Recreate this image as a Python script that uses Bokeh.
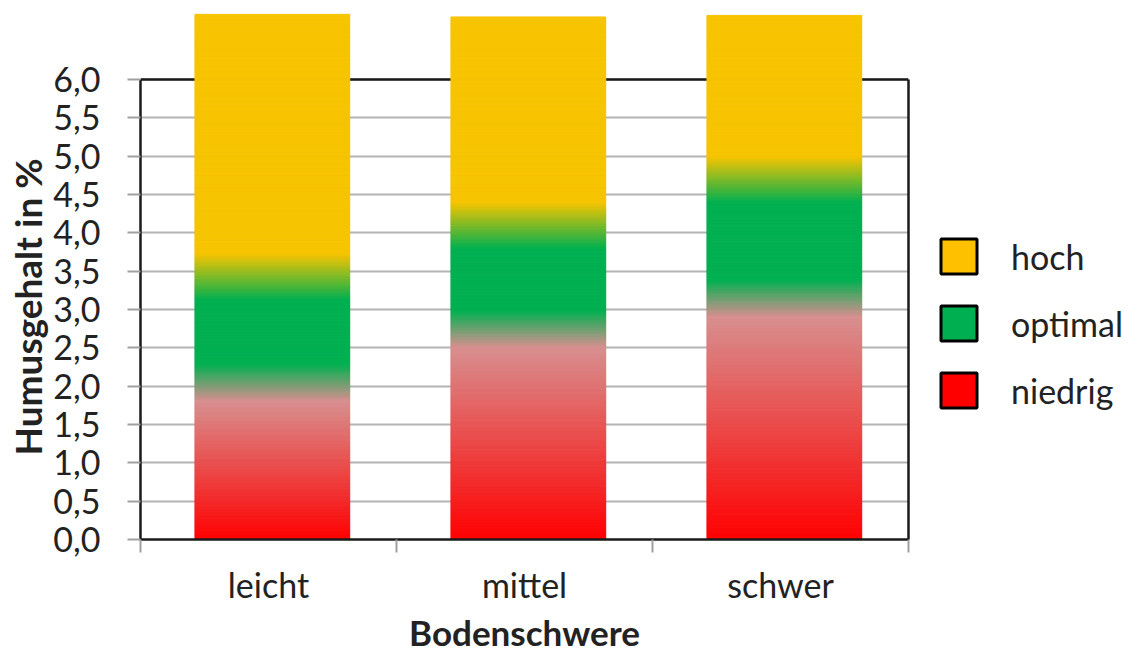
import math
from bokeh.plotting import figure
from bokeh.layouts import row
from bokeh.models import (Range1d, FixedTicker, LinearAxis, Span, Title,
                          Legend, LegendItem, ColumnDataSource)
from bokeh.embed import file_html
from bokeh.resources import INLINE

# ---------------- data ----------------
categories = ["leicht", "mittel", "schwer"]
niedrig = [2.05, 2.75, 3.15]          # segment heights (%)
optimal = [1.38, 1.35, 1.55]
hoch = [3.42, 2.715, 2.135]
y_ticks = [0.0, 0.5, 1.0, 1.5, 2.0, 2.5, 3.0, 3.5, 4.0, 4.5, 5.0, 5.5, 6.0]
y_tick_labels = ["0,0", "0,5", "1,0", "1,5", "2,0", "2,5", "3,0", "3,5",
                 "4,0", "4,5", "5,0", "5,5", "6,0"]
series_names = ["hoch", "optimal", "niedrig"]
y_title = "Humusgehalt in %"
x_title = "Bodenschwere"

# ---------------- style ----------------
FONT = "Lato"
TXT = "#222222"
RED = (255, 0, 0)
PINK = (216, 143, 143)
GREEN = (0, 176, 80)
YELLOW = (247, 196, 0)
LO_HW = 0.24   # blend half-width niedrig/optimal
HI_HW = 0.30   # blend half-width optimal/hoch
STEP = 0.01
BAR_W = 0.605
BAR_DX = 0.015  # small rightward shift of the bars, as in the original


def mix(c1, c2, t):
    t = min(max(t, 0.0), 1.0)
    return "#%02x%02x%02x" % tuple(int(round(a + (b - a) * t)) for a, b in zip(c1, c2))


def color_at(v, b1, b2):
    if v < b1 - LO_HW:
        return mix(RED, PINK, v / (b1 - LO_HW))
    if v < b1 + LO_HW:
        return mix(PINK, GREEN, (v - (b1 - LO_HW)) / (2 * LO_HW))
    if v < b2 - HI_HW:
        return mix(GREEN, GREEN, 0)
    if v < b2 + HI_HW:
        return mix(GREEN, YELLOW, (v - (b2 - HI_HW)) / (2 * HI_HW))
    return mix(YELLOW, YELLOW, 0)


xs, bots, tops, cols = [], [], [], []
for i, cat in enumerate(categories):
    b1 = niedrig[i]
    b2 = b1 + optimal[i]
    total = b2 + hoch[i]
    n = int(math.ceil(total / STEP))
    for k in range(n):
        lo = k * STEP
        hi = min(total, lo + STEP)
        xs.append(i + 0.5 + BAR_DX)
        bots.append(lo)
        tops.append(hi)
        cols.append(color_at((lo + hi) / 2, b1, b2))

src = ColumnDataSource(dict(x=xs, bottom=bots, top=tops, color=cols))

p = figure(width=912, height=655, output_backend="svg", toolbar_location=None,
           x_range=Range1d(0, len(categories)), y_range=Range1d(0, 7.03),
           min_border_left=140, min_border_right=4, min_border_top=0,
           min_border_bottom=116)
p.outline_line_color = None
p.background_fill_color = "white"
p.border_fill_color = "white"

# grid
p.xgrid.visible = False
p.ygrid.grid_line_color = "#b4b4b4"
p.ygrid.grid_line_width = 2

# y axis
ya = p.yaxis[0]
ya.ticker = FixedTicker(ticks=y_ticks)
ya.major_label_overrides = {t: l for t, l in zip(y_ticks, y_tick_labels)}
ya.bounds = (y_ticks[0], y_ticks[-1])
ya.axis_line_color = "#1a1a1a"
ya.axis_line_width = 2.5
ya.major_tick_in = 0
ya.major_tick_out = 13
ya.major_tick_line_color = "#a0a0a0"
ya.major_tick_line_width = 2
ya.minor_tick_line_color = None
ya.minor_tick_out = 0
ya.major_label_standoff = 27
ya.major_label_text_font = FONT
ya.major_label_text_font_size = "34px"
ya.major_label_text_color = TXT

p.add_layout(Title(text=y_title, align="left", offset=84,
                   vertical_align="middle", standoff=0, text_font=FONT,
                   text_font_style="bold", text_font_size="37px",
                   text_color=TXT), "left")

# x axis
xa = p.xaxis[0]
centers = [i + 0.5 for i in range(len(categories))]
bounds_ticks = [float(i) for i in range(len(categories) + 1)]
xa.ticker = FixedTicker(ticks=centers, minor_ticks=bounds_ticks)
xa.major_label_overrides = {c: n for c, n in zip(centers, categories)}
xa.axis_line_color = "#1a1a1a"
xa.axis_line_width = 2.5
xa.major_tick_line_color = None
xa.major_tick_in = 0
xa.major_tick_out = 0
xa.minor_tick_in = 0
xa.minor_tick_out = 13
xa.minor_tick_line_color = "#a0a0a0"
xa.minor_tick_line_width = 2
xa.major_label_standoff = 11
xa.major_label_text_font = FONT
xa.major_label_text_font_size = "34px"
xa.major_label_text_color = TXT
xa.axis_label = x_title
xa.axis_label_standoff = 3
xa.axis_label_text_font = FONT
xa.axis_label_text_font_style = "bold"
xa.axis_label_text_font_size = "35px"
xa.axis_label_text_color = TXT

# right frame line
ra = LinearAxis(ticker=FixedTicker(ticks=[]), bounds=(y_ticks[0], y_ticks[-1]))
ra.axis_line_color = "#1a1a1a"
ra.axis_line_width = 2.5
ra.major_tick_line_color = None
ra.minor_tick_line_color = None
ra.major_tick_out = 0
ra.minor_tick_out = 0
ra.major_label_standoff = 0
ra.major_label_text_color = None
p.add_layout(ra, "right")

# top frame line at 6,0
p.add_layout(Span(location=y_ticks[-1], dimension="width", line_color="#1a1a1a",
                  line_width=2.5, level="underlay"))

# gradient bars
p.vbar(x="x", bottom="bottom", top="top", width=BAR_W, source=src,
       fill_color="color", line_color="color", line_width=0.8)

# ---------------- legend panel ----------------
pl = figure(width=232, height=655, output_backend="svg", toolbar_location=None,
            x_range=Range1d(0, 1), y_range=Range1d(0, 1),
            min_border_left=0, min_border_right=0, min_border_top=0,
            min_border_bottom=0)
pl.axis.visible = False
pl.grid.visible = False
pl.outline_line_color = None
pl.background_fill_color = "white"
pl.border_fill_color = "white"

leg_colors = ["#ffc000", "#00b050", "#ff0000"]
items = []
for name, c in zip(series_names, leg_colors):
    r = pl.vbar(x=[0.5], top=[1], width=0.5, fill_color=c, line_color="black",
                line_width=3, visible=False)
    items.append(LegendItem(label=name, renderers=[r]))
legend = Legend(items=items, location=(24, 127), orientation="vertical",
                padding=0, margin=0, spacing=23, glyph_width=45, glyph_height=44,
                label_height=44, label_standoff=30, border_line_color=None,
                background_fill_alpha=0, inactive_fill_alpha=0,
                label_text_font=FONT, label_text_font_size="34px",
                label_text_color=TXT)
pl.add_layout(legend)

open("out.html", "w").write(file_html(row(p, pl), INLINE))
